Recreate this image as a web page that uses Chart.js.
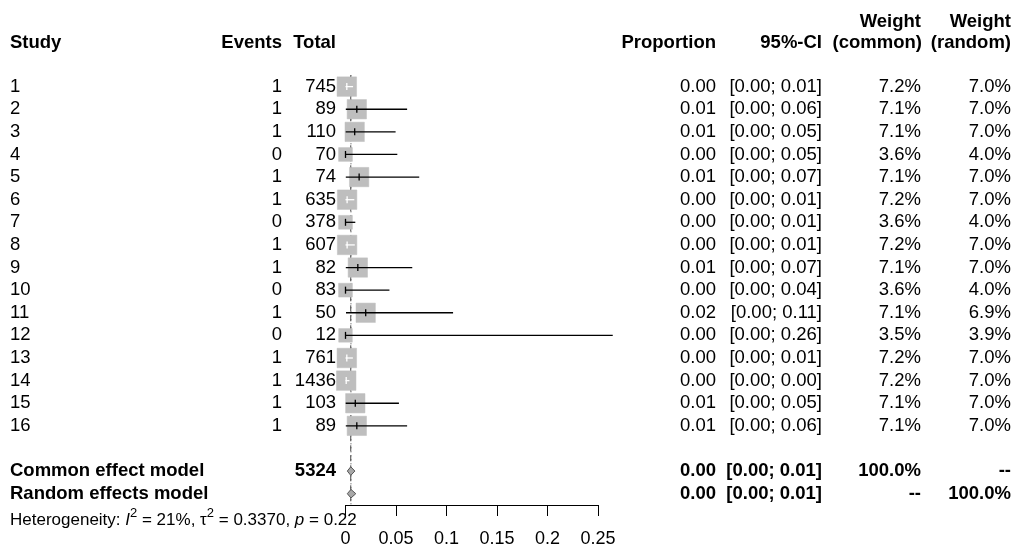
<!DOCTYPE html>
<html><head><meta charset="utf-8">
<script src="https://cdn.jsdelivr.net/npm/chart.js@4.4.1/dist/chart.umd.min.js"></script>
<style>html,body{margin:0;padding:0;background:#fff;} #wrap{width:1016px;height:550px;}</style>
</head><body><div id="wrap"><canvas id="c" width="1016" height="550"></canvas></div>
<script>
// ---- data ----
const studies   = ['1','2','3','4','5','6','7','8','9','10','11','12','13','14','15','16'];
const events    = [1,1,1,0,1,1,0,1,1,0,1,0,1,1,1,1];
const totals    = [745,89,110,70,74,635,378,607,82,83,50,12,761,1436,103,89];
const estimates = [0.0013,0.0112,0.0091,0,0.0135,0.0016,0,0.0016,0.0122,0,0.0200,0,0.0013,0.0007,0.0097,0.0112];
const lowers    = [0.0000,0.0003,0.0002,0,0.0003,0.0000,0,0.0000,0.0003,0,0.0005,0,0.0000,0.0000,0.0002,0.0003];
const uppers    = [0.0075,0.0610,0.0496,0.0513,0.0730,0.0087,0.0097,0.0092,0.0661,0.0435,0.1065,0.2646,0.0073,0.0039,0.0529,0.0610];
const propText  = ['0.00','0.01','0.01','0.00','0.01','0.00','0.00','0.00','0.01','0.00','0.02','0.00','0.00','0.00','0.01','0.01'];
const ciText    = ['[0.00; 0.01]','[0.00; 0.06]','[0.00; 0.05]','[0.00; 0.05]','[0.00; 0.07]','[0.00; 0.01]','[0.00; 0.01]','[0.00; 0.01]','[0.00; 0.07]','[0.00; 0.04]','[0.00; 0.11]','[0.00; 0.26]','[0.00; 0.01]','[0.00; 0.00]','[0.00; 0.05]','[0.00; 0.06]'];
const wCommon   = [7.2,7.1,7.1,3.6,7.1,7.2,3.6,7.2,7.1,3.6,7.1,3.5,7.2,7.2,7.1,7.1];
const wRandom   = [7.0,7.0,7.0,4.0,7.0,7.0,4.0,7.0,7.0,4.0,6.9,3.9,7.0,7.0,7.0,7.0];
const summaryLabels = ['Common effect model','Random effects model'];
const summaryEst    = [0.0052, 0.0054];
const summaryLower  = [0.0018, 0.0018];
const summaryUpper  = [0.0093, 0.0102];
const summaryTotal  = ['5324',''];
const summaryProp   = ['0.00','0.00'];
const summaryCI     = ['[0.00; 0.01]','[0.00; 0.01]'];
const summaryWc     = ['100.0%','--'];
const summaryWr     = ['--','100.0%'];
const tickValues = [0,0.05,0.1,0.15,0.2,0.25];
const tickLabels = ['0','0.05','0.1','0.15','0.2','0.25'];
const hetText = [['Heterogeneity: ','n'],['I','i'],['2','s'],[' = 21%, ','n'],['\u03c4','n'],['2','s'],[' = 0.3370, ','n'],['p','i'],[' = 0.22','n']];

// ---- layout / style ----
const FONT = '"Liberation Sans", Arial, sans-serif';
const FS = 18.5;
const rows = studies.map((s,i)=>i+1);
const ROW_SUM = [18,19];
const BOX_REF = 19.5, W_REF = 7.2;
const boxSide = w => BOX_REF*Math.sqrt(w/W_REF);
const GRAY = '#bebebe';

function ciInside(chart,i){
  const xs = chart.scales.x;
  const c = xs.getPixelForValue(estimates[i]);
  const h = boxSide(wCommon[i])/2;
  return xs.getPixelForValue(lowers[i]) >= c-h && xs.getPixelForValue(uppers[i]) <= c+h;
}

const ciData = [];
rows.forEach((r,i)=>{ ciData.push({x:lowers[i],y:r},{x:uppers[i],y:r},{x:null,y:null}); });

const diamond = k => [
  {x:summaryLower[k],y:ROW_SUM[k]},{x:summaryEst[k],y:ROW_SUM[k]-0.19},
  {x:summaryUpper[k],y:ROW_SUM[k]},{x:summaryEst[k],y:ROW_SUM[k]+0.19},
  {x:summaryLower[k],y:ROW_SUM[k]}];

const textPlugin = {
  id:'forestText',
  afterDraw(chart){
    const ctx = chart.ctx, ys = chart.scales.y;
    const Y = r => ys.getPixelForValue(r);
    ctx.save();
    ctx.fillStyle = '#000';
    ctx.textBaseline = 'middle';
    const put = (t,x,r,align,bold,size) => {
      ctx.font = (bold?'bold ':'') + (size||FS) + 'px ' + FONT;
      ctx.textAlign = align; ctx.fillText(t,x,Y(r));
    };
    const H1 = -1.88, H2 = -0.92;
    put('Study',10,H2,'left',true);
    put('Events',282,H2,'right',true);
    put('Total',336,H2,'right',true);
    put('Proportion',716,H2,'right',true);
    put('95%-CI',822,H2,'right',true);
    put('Weight',921,H1,'right',true);
    put('(common)',922,H2,'right',true);
    put('Weight',1011,H1,'right',true);
    put('(random)',1011,H2,'right',true);
    rows.forEach((r,i)=>{
      put(studies[i],10,r,'left',false);
      put(String(events[i]),282,r,'right',false);
      put(String(totals[i]),336,r,'right',false);
      put(propText[i],716,r,'right',false);
      put(ciText[i],822,r,'right',false);
      put(wCommon[i].toFixed(1)+'%',921,r,'right',false);
      put(wRandom[i].toFixed(1)+'%',1011,r,'right',false);
    });
    ROW_SUM.forEach((r,k)=>{
      put(summaryLabels[k],10,r,'left',true);
      if(summaryTotal[k]) put(summaryTotal[k],336,r,'right',true);
      put(summaryProp[k],716,r,'right',true);
      put(summaryCI[k],822,r,'right',true);
      put(summaryWc[k],921,r,'right',true);
      put(summaryWr[k],1011,r,'right',true);
    });
    // heterogeneity line
    let x = 10; const base = Y(20) + 9;
    ctx.textAlign = 'left'; ctx.textBaseline = 'alphabetic';
    hetText.forEach(([t,s])=>{
      if(s==='s'){ ctx.font = '13px '+FONT; ctx.fillText(t,x,base-8); }
      else { ctx.font = (s==='i'?'italic ':'')+'17px '+FONT; ctx.fillText(t,x,base); }
      x += ctx.measureText(t).width;
    });
    ctx.restore();
  }
};

new Chart(document.getElementById('c'), {
  type:'scatter',
  data:{ datasets:[
    { // estimate ticks
      type:'scatter', order:1,
      data: rows.map((r,i)=>({x:estimates[i],y:r})),
      pointStyle:'line', pointRotation:90, pointRadius:3.5, pointHoverRadius:3.5,
      borderWidth:1.3,
      pointBorderColor: c => ciInside(c.chart,c.dataIndex) ? '#ffffff' : '#000000',
      clip:false
    },
    { // CI lines
      type:'line', order:2, data:ciData, showLine:true, spanGaps:false,
      pointRadius:0, borderWidth:1.3, borderColor:'#000', clip:false,
      segment:{ borderColor: c => ciInside(c.chart, Math.floor(c.p0DataIndex/3)) ? '#ffffff' : '#000000' }
    },
    { // study squares
      type:'scatter', order:3,
      data: rows.map((r,i)=>({x:estimates[i],y:r})),
      pointStyle:'rect',
      pointRadius: c => boxSide(wCommon[c.dataIndex])/Math.SQRT2,
      pointHoverRadius: c => boxSide(wCommon[c.dataIndex])/Math.SQRT2,
      backgroundColor:GRAY, borderColor:GRAY, borderWidth:0.5, clip:false
    },
    { // common diamond
      type:'line', order:1, data:diamond(0), pointRadius:0, borderWidth:1,
      borderColor:'#555', backgroundColor:'#a8a8a8', fill:'shape', tension:0
    },
    { // random diamond
      type:'line', order:1, data:diamond(1), pointRadius:0, borderWidth:1,
      borderColor:'#555', backgroundColor:'#a8a8a8', fill:'shape', tension:0
    },
    { // common reference line (dashed)
      type:'line', order:4, data:[{x:summaryEst[0],y:0.5},{x:summaryEst[0],y:19.5}],
      pointRadius:0, borderWidth:1, borderColor:'#444', borderDash:[6,4]
    },
    { // random reference line (dotted)
      type:'line', order:5, data:[{x:summaryEst[1],y:0.5},{x:summaryEst[1],y:19.5}],
      pointRadius:0, borderWidth:1, borderColor:'#444', borderDash:[1,3]
    }
  ]},
  options:{
    responsive:false, animation:false, devicePixelRatio:1,
    events:[],
    layout:{ padding:{ left:345.5, right:418, top:64, bottom:0 } },
    plugins:{ legend:{display:false}, tooltip:{enabled:false} },
    scales:{
      x:{ type:'linear', min:0, max:0.25,
        afterBuildTicks: s => { s.ticks = tickValues.map(v=>({value:v})); },
        afterFit: s => { s.height = 45; },
        ticks:{ callback:(v,i)=>tickLabels[i], color:'#000', font:{family:FONT,size:18}, padding:12, maxRotation:0, autoSkip:false },
        grid:{ drawOnChartArea:false, drawTicks:true, tickLength:11, color:'#000', lineWidth:1 },
        border:{ display:true, color:'#000', width:1 }
      },
      y:{ type:'linear', reverse:true, min:0, max:19.5, display:false }
    }
  },
  plugins:[textPlugin]
});
</script>
</body></html>
